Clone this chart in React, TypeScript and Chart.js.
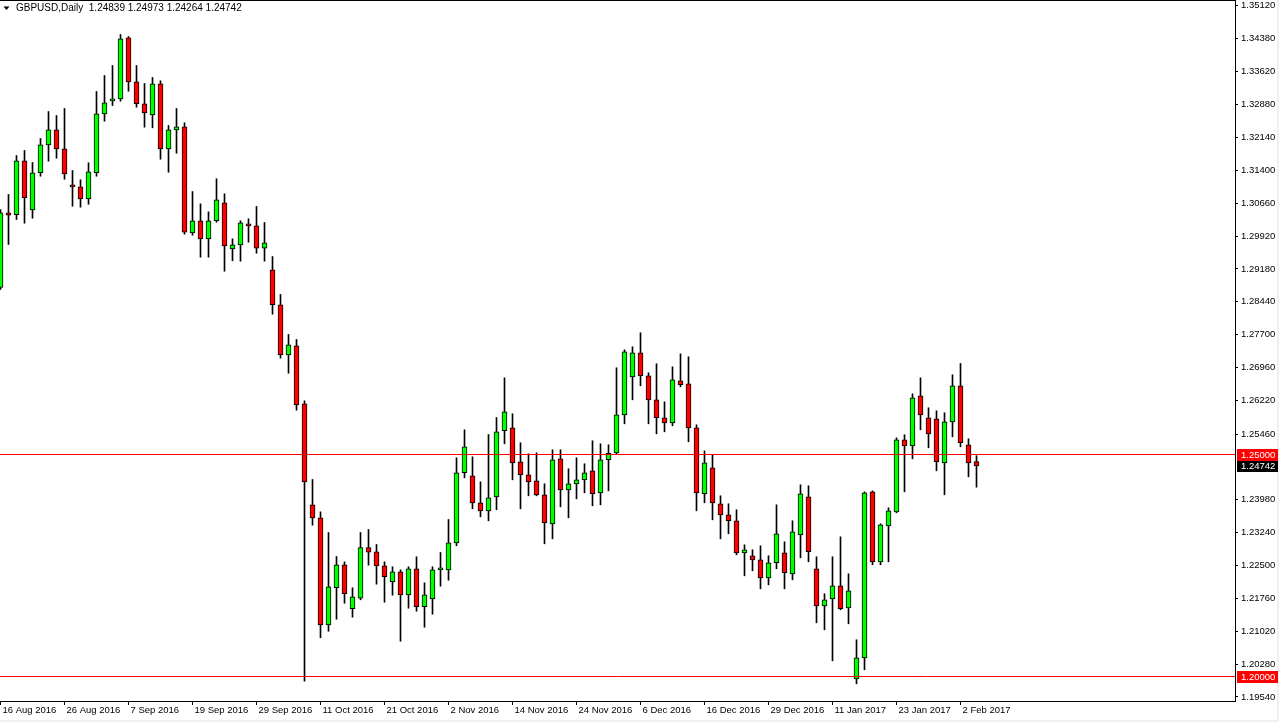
import React, { useEffect, useRef } from "react";
import { Chart, registerables } from "chart.js";

Chart.register(...registerables);

const symbolTitle = "GBPUSD,Daily";

const open = [
  1.28761, 1.30444, 1.30399, 1.31615, 1.30511, 1.31345, 1.31975, 1.32313, 1.31885, 1.31074,
  1.31029, 1.30759, 1.31345, 1.32673, 1.32966, 1.33011, 1.34385, 1.33394, 1.32899, 1.32651,
  1.33349, 1.31885, 1.32313, 1.32381, 1.29993, 1.30264, 1.29858, 1.30264, 1.30669, 1.29633,
  1.29723, 1.30196, 1.30151, 1.29646, 1.29160, 1.28372, 1.27245, 1.27448, 1.26142, 1.23867,
  1.23574, 1.21164, 1.21998, 1.22516, 1.21525, 1.21764, 1.22905, 1.22809, 1.22493, 1.22133,
  1.22358, 1.21840, 1.22426, 1.21570, 1.21750, 1.22403, 1.22403, 1.23011, 1.24588, 1.24520,
  1.23912, 1.23732, 1.24047, 1.25534, 1.25601, 1.24836, 1.24543, 1.24408, 1.24092, 1.23439,
  1.24903, 1.24205, 1.24340, 1.24430, 1.24633, 1.24137, 1.24881, 1.25038, 1.25894, 1.26750,
  1.27291, 1.26773, 1.26232, 1.25827, 1.25714, 1.26660, 1.26592, 1.25601, 1.24115, 1.24700,
  1.23890, 1.23642, 1.23507, 1.22786, 1.22719, 1.22628, 1.22223, 1.22561, 1.22786, 1.22313,
  1.23191, 1.24047, 1.22426, 1.21592, 1.21750, 1.22043, 1.21547, 1.19948, 1.20421, 1.24160,
  1.22583, 1.23394, 1.23709, 1.25331, 1.25196, 1.26322, 1.25827, 1.25804, 1.24813, 1.25736,
  1.26547, 1.25218, 1.24839,
];
const high = [
  1.30518, 1.30856, 1.31734, 1.31847, 1.31577, 1.32117, 1.32725, 1.32635, 1.32793, 1.31396,
  1.31187, 1.31570, 1.33176, 1.33536, 1.33761, 1.34459, 1.34414, 1.33761, 1.33356, 1.33491,
  1.33417, 1.32410, 1.32793, 1.32471, 1.30923, 1.30646, 1.30466, 1.31210, 1.30872, 1.29858,
  1.30264, 1.30309, 1.30586, 1.30225, 1.29459, 1.28604, 1.27703, 1.27590, 1.26209, 1.24437,
  1.23709, 1.23243, 1.22703, 1.22583, 1.21998, 1.23243, 1.23311, 1.22973, 1.22583, 1.22471,
  1.22403, 1.22471, 1.22696, 1.22110, 1.22471, 1.22793, 1.23536, 1.24926, 1.25556, 1.24948,
  1.24385, 1.25450, 1.25833, 1.26727, 1.25917, 1.25264, 1.25016, 1.25038, 1.24340, 1.25106,
  1.25106, 1.24678, 1.24926, 1.24791, 1.25309, 1.25241, 1.25218, 1.26953, 1.27358, 1.27426,
  1.27741, 1.26840, 1.27043, 1.26187, 1.26975, 1.27268, 1.27200, 1.25669, 1.25083, 1.24993,
  1.24070, 1.23890, 1.23755, 1.22966, 1.22854, 1.22944, 1.22719, 1.23867, 1.23034, 1.23507,
  1.24318, 1.24295, 1.22696, 1.21863, 1.22696, 1.23146, 1.22313, 1.20827, 1.24160, 1.24182,
  1.23439, 1.23800, 1.25376, 1.25444, 1.26367, 1.26727, 1.26052, 1.25984, 1.25939, 1.26795,
  1.27050, 1.25354, 1.24973,
];
const low = [
  1.28716, 1.29730, 1.30293, 1.30209, 1.30322, 1.31268, 1.31606, 1.31673, 1.31200, 1.30592,
  1.30570, 1.30637, 1.31268, 1.32507, 1.32860, 1.32957, 1.33182, 1.32822, 1.32372, 1.32358,
  1.31651, 1.31358, 1.31786, 1.29962, 1.29939, 1.29444, 1.29444, 1.30232, 1.29128, 1.29363,
  1.29354, 1.29782, 1.29534, 1.29354, 1.28160, 1.27169, 1.26831, 1.25998, 1.19894, 1.23408,
  1.20872, 1.21020, 1.21291, 1.21651, 1.21336, 1.21727, 1.22507, 1.22079, 1.21673, 1.21831,
  1.20795, 1.21538, 1.21471, 1.21110, 1.21403, 1.22034, 1.22169, 1.22944, 1.24475, 1.23777,
  1.23597, 1.23507, 1.23755, 1.25241, 1.24430, 1.23777, 1.24070, 1.24070, 1.22989, 1.23101,
  1.23822, 1.23574, 1.24002, 1.24137, 1.23845, 1.23867, 1.24182, 1.25016, 1.25691, 1.26232,
  1.26547, 1.25691, 1.25466, 1.25511, 1.25646, 1.26525, 1.25286, 1.23732, 1.23912, 1.23529,
  1.23101, 1.23214, 1.22741, 1.22268, 1.22381, 1.21975, 1.22065, 1.22426, 1.21975, 1.22178,
  1.22673, 1.22583, 1.21209, 1.21052, 1.20354, 1.21502, 1.21187, 1.19836, 1.20151, 1.22516,
  1.22516, 1.22583, 1.23687, 1.24160, 1.24903, 1.25556, 1.25151, 1.24633, 1.24092, 1.25399,
  1.25173, 1.24498, 1.24264,
];
const close = [
  1.30444, 1.30390, 1.31615, 1.30782, 1.31345, 1.31975, 1.32313, 1.31885, 1.31322, 1.31029,
  1.30759, 1.31367, 1.32673, 1.32921, 1.33011, 1.34363, 1.33394, 1.32899, 1.32696, 1.33349,
  1.31885, 1.32313, 1.32381, 1.30007, 1.30264, 1.29858, 1.30264, 1.30736, 1.29700, 1.29723,
  1.30218, 1.30151, 1.29646, 1.29768, 1.28372, 1.27245, 1.27471, 1.26119, 1.24385, 1.23574,
  1.21164, 1.22020, 1.22516, 1.21863, 1.21795, 1.22905, 1.22800, 1.22493, 1.22246, 1.22358,
  1.21840, 1.22426, 1.21570, 1.21840, 1.22403, 1.22426, 1.23011, 1.24588, 1.25173, 1.23912,
  1.23732, 1.24025, 1.25511, 1.25962, 1.24813, 1.24543, 1.24385, 1.24092, 1.23462, 1.24881,
  1.24205, 1.24340, 1.24430, 1.24588, 1.24115, 1.24881, 1.25029, 1.25894, 1.27313, 1.27291,
  1.26773, 1.26232, 1.25827, 1.25714, 1.26682, 1.26570, 1.25601, 1.24137, 1.24813, 1.23912,
  1.23642, 1.23507, 1.22786, 1.22854, 1.22628, 1.22223, 1.22561, 1.23214, 1.22336, 1.23259,
  1.24115, 1.22809, 1.21592, 1.21727, 1.22043, 1.21525, 1.21930, 1.20421, 1.24137, 1.22583,
  1.23417, 1.23732, 1.25331, 1.25196, 1.26277, 1.25894, 1.25466, 1.24836, 1.25736, 1.26547,
  1.25264, 1.24813, 1.24742,
];

const dateTickIndex = [0, 8, 16, 24, 32, 40, 48, 56, 64, 72, 80, 88, 96, 104, 112, 120];
const dateTickLabels = [
  "16 Aug 2016", "26 Aug 2016", "7 Sep 2016", "19 Sep 2016", "29 Sep 2016", "11 Oct 2016",
  "21 Oct 2016", "2 Nov 2016", "14 Nov 2016", "24 Nov 2016", "6 Dec 2016", "16 Dec 2016",
  "29 Dec 2016", "11 Jan 2017", "23 Jan 2017", "2 Feb 2017",
];
const priceTicks = [
  1.3512, 1.3438, 1.3362, 1.3288, 1.3214, 1.314, 1.3066, 1.2992, 1.2918, 1.2844, 1.277,
  1.2696, 1.2622, 1.2546, 1.2398, 1.2324, 1.225, 1.2176, 1.2102, 1.2028, 1.1954,
];
const levels = [1.25, 1.2];

const PRICE_MIN = 1.194482;
const PRICE_MAX = 1.352365;
const X_MIN = -0.0625;
const X_MAX = 154.3125;

const BULL = "#00ff00";
const BEAR = "#ff0000";
const FONT_FAMILY = '"Liberation Sans", Arial, sans-serif';
const FONT_SIZE = 9.5;

export default function App() {
  const ref = useRef<HTMLCanvasElement | null>(null);

  useEffect(() => {
    document.body.style.margin = "0";
    const canvas = ref.current;
    if (!canvas) return;
    const n = open.length;
    const last = n - 1;

    const decor = {
      id: "decor",
      afterDraw(chart: any) {
        const { ctx, chartArea, scales } = chart;
        const ys = scales.y;
        const W = chart.width;
        const H = chart.height;
        ctx.save();
        // top frame line
        ctx.strokeStyle = "#000";
        ctx.lineWidth = 1;
        ctx.beginPath();
        ctx.moveTo(chartArea.left, chartArea.top + 0.5);
        ctx.lineTo(chartArea.right + 1, chartArea.top + 0.5);
        ctx.stroke();
        // window edges
        ctx.fillStyle = "#f0f0f0";
        ctx.fillRect(W - 2, 0, 2, H);
        ctx.fillRect(0, H - 2, W, 2);

        ctx.font = `${FONT_SIZE}px ${FONT_FAMILY}`;
        ctx.textBaseline = "middle";
        ctx.textAlign = "left";
        // level tags
        levels.forEach((v) => {
          const py = Math.round(ys.getPixelForValue(v));
          ctx.fillStyle = BEAR;
          ctx.fillRect(chartArea.right + 2, py - 6, 41, 12);
          ctx.fillStyle = "#fff";
          ctx.fillText(v.toFixed(5), chartArea.right + 6, py);
        });
        // last price tag
        const lp = close[last];
        const lpy = Math.round(ys.getPixelForValue(lp));
        ctx.fillStyle = "#000";
        ctx.fillRect(chartArea.right + 2, lpy - 5, 41, 11);
        ctx.fillStyle = "#fff";
        ctx.fillText(lp.toFixed(5), chartArea.right + 6, lpy);

        // title
        ctx.fillStyle = "#000";
        ctx.beginPath();
        ctx.moveTo(3.5, 6.5);
        ctx.lineTo(9.5, 6.5);
        ctx.lineTo(6.5, 10);
        ctx.closePath();
        ctx.fill();
        ctx.font = `10px ${FONT_FAMILY}`;
        const ohlc = [open[last], high[last], low[last], close[last]].map((v) => v.toFixed(5)).join(" ");
        ctx.fillText(`${symbolTitle}  ${ohlc}`, 16, 8.5);
        ctx.restore();
      },
    };

    const chart = new Chart(canvas, {
      type: "bar",
      data: {
        datasets: [
          {
            type: "line",
            data: levels.flatMap((v) => [
              { x: X_MIN, y: v },
              { x: X_MAX, y: v },
              { x: NaN, y: NaN },
            ]),
            borderColor: BEAR,
            borderWidth: 1,
            pointRadius: 0,
            spanGaps: false,
            order: 0,
          } as any,
          {
            data: open.map((o, i) => ({ x: i, y: [o, close[i]] })),
            backgroundColor: open.map((o, i) => (close[i] >= o ? BULL : BEAR)),
            borderColor: "#000",
            borderWidth: 1,
            borderSkipped: false,
            barThickness: 5,
            minBarLength: 2,
            grouped: false,
            order: 1,
          } as any,
          {
            data: low.map((l, i) => ({ x: i, y: [l, high[i]] })),
            backgroundColor: "#000",
            borderWidth: 0,
            barThickness: 1,
            grouped: false,
            order: 2,
          } as any,
        ],
      },
      options: {
        responsive: false,
        animation: false,
        devicePixelRatio: 1,
        layout: { padding: 0 },
        plugins: { legend: { display: false }, tooltip: { enabled: false } },
        scales: {
          x: {
            type: "linear",
            min: X_MIN,
            max: X_MAX,
            offset: false,
            grid: {
              display: true,
              offset: false,
              drawOnChartArea: false,
              drawTicks: true,
              tickLength: 4,
              color: "#000",
            },
            border: { display: true, color: "#000", width: 1 },
            afterBuildTicks: (scale: any) => {
              scale.ticks = dateTickIndex.map((v) => ({ value: v }));
            },
            afterFit: (scale: any) => {
              scale.height = 21;
              scale.paddingLeft = 0;
              scale.paddingRight = 0;
            },
            ticks: {
              autoSkip: false,
              maxRotation: 0,
              minRotation: 0,
              align: "start",
              labelOffset: 2,
              padding: 0,
              color: "#000",
              font: { family: FONT_FAMILY, size: FONT_SIZE },
              callback: (v: any) => {
                const k = dateTickIndex.indexOf(Number(v));
                return k >= 0 ? dateTickLabels[k] : "";
              },
            },
          },
          y: {
            type: "linear",
            position: "right",
            min: PRICE_MIN,
            max: PRICE_MAX,
            grid: { display: true, offset: false, drawOnChartArea: false, drawTicks: true, tickLength: 3, color: "#000" },
            border: { display: true, color: "#000", width: 1 },
            afterBuildTicks: (scale: any) => {
              scale.ticks = priceTicks.map((v) => ({ value: v }));
            },
            afterFit: (scale: any) => {
              scale.width = 44;
              scale.paddingTop = 0;
              scale.paddingBottom = 0;
            },
            ticks: {
              autoSkip: false,
              padding: 3,
              color: "#000",
              font: { family: FONT_FAMILY, size: FONT_SIZE },
              callback: (v: any) => Number(v).toFixed(5),
            },
          },
        },
      } as any,
      plugins: [decor],
    });

    return () => chart.destroy();
  }, []);

  return (
    <canvas ref={ref} width={1279} height={722} style={{ display: "block", width: 1279, height: 722 }} />
  );
}
